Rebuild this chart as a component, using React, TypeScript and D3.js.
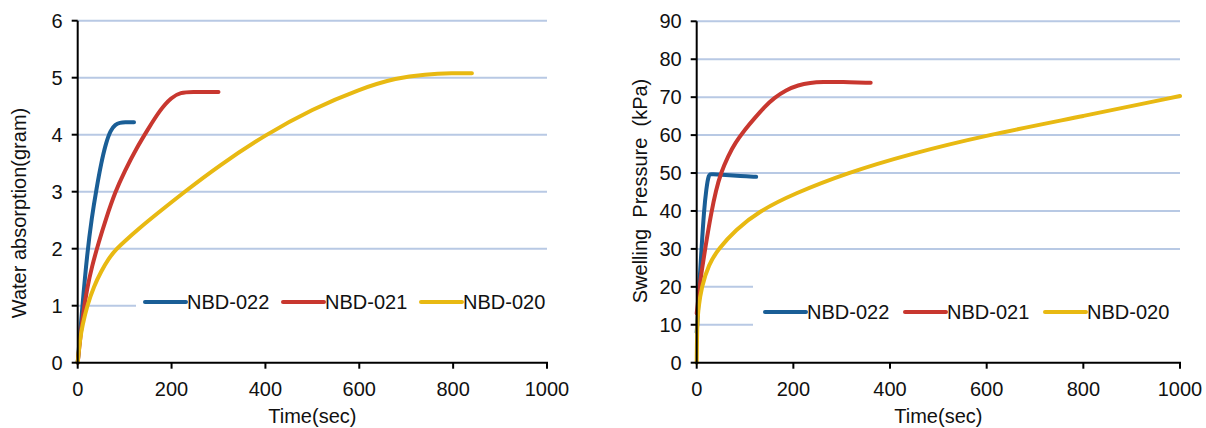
import React from "react";
import * as d3 from "d3";

const seriesNames = ["NBD-022", "NBD-021", "NBD-020"];
const seriesColors = ["#1a5e96", "#c8372f", "#e8b912"];

// Left chart: water absorption (gram) vs time (sec)
const absTime022 = [0, 10, 20, 30, 40, 50, 60, 70, 80, 90, 100, 120];
const absValue022 = [0, 1.0, 1.9, 2.55, 3.05, 3.5, 3.85, 4.08, 4.18, 4.21, 4.22, 4.22];
const absTime021 = [0, 10, 20, 30, 45, 60, 80, 100, 125, 150, 175, 200, 220, 240, 300];
const absValue021 = [0, 0.8, 1.3, 1.68, 2.12, 2.52, 3.0, 3.36, 3.76, 4.1, 4.43, 4.66, 4.74, 4.75, 4.75];
const absTime020 = [0, 5, 10, 20, 35, 50, 65, 83, 100, 130, 170, 228, 300, 400, 500, 600, 680, 740, 800, 840];
const absValue020 = [0, 0.42, 0.65, 1.0, 1.35, 1.6, 1.82, 2.0, 2.13, 2.35, 2.62, 3.0, 3.45, 4.0, 4.45, 4.8, 5.0, 5.06, 5.08, 5.08];

// Right chart: swelling pressure (kPa) vs time (sec)
const presTime022 = [0, 3, 5, 10, 15, 20, 25, 30, 60, 90, 123];
const presValue022 = [8, 14, 20, 30, 40, 46, 49.8, 49.7, 49.5, 49.2, 49.0];
const presTime021 = [0, 5, 10, 20, 30, 40, 50, 65, 80, 100, 120, 140, 160, 185, 210, 235, 260, 300, 360];
const presValue021 = [13, 19, 24, 32, 39.5, 45.5, 50, 54.5, 58, 61.5, 64.5, 67.4, 69.8, 71.9, 73.2, 73.8, 74, 74, 73.8];
const presTime020 = [0, 1, 3, 10, 25, 45, 80, 130, 200, 310, 440, 600, 800, 1000];
const presValue020 = [0, 10, 14, 20, 26, 30, 35, 40, 44.5, 50, 55, 60, 65, 70.3];

const xTicks = [0, 200, 400, 600, 800, 1000];
const absTicks = [0, 1, 2, 3, 4, 5, 6];
const presTicks = [0, 10, 20, 30, 40, 50, 60, 70, 80, 90];

const FONT = "'Liberation Sans', Arial, sans-serif";
const GRID = "#b8c9e4";

type Pt = [number, number];
const zip = (t: number[], v: number[]): Pt[] => t.map((d, i) => [d, v[i]]);

interface PanelProps {
  x0: number; x1: number; y0: number; y1: number;
  yMax: number; yTicks: number[]; labelGap: number;
  series: Pt[][];
  yTitle: string; yTitleX: number; yTitleY: number;
  legend: { x: number; y: number; stride: number; rect: [number, number, number, number] };
}

function Panel(p: PanelProps) {
  const x = d3.scaleLinear().domain([0, 1000]).range([p.x0, p.x1]);
  const y = d3.scaleLinear().domain([0, p.yMax]).range([p.y0, p.y1]);
  const line = d3.line<Pt>().x(d => x(d[0])).y(d => y(d[1])).curve(d3.curveBasis);
  const [rx, ry, rw, rh] = p.legend.rect;
  return (
    <g>
      {p.yTicks.filter(t => t > 0).map(t => (
        <line key={"g" + t} x1={x(0)} x2={x(1000)} y1={y(t)} y2={y(t)} stroke={GRID} strokeWidth={2} />
      ))}
      <rect x={rx} y={ry} width={rw} height={rh} fill="#fff" />
      {p.series.map((s, i) => (
        <path key={"s" + i} d={line(s) || ""} fill="none" stroke={seriesColors[i]} strokeWidth={4} strokeLinecap="round" strokeLinejoin="round" />
      ))}
      <line x1={x(0)} x2={x(0)} y1={y(0) + 1} y2={y(p.yMax)} stroke="#000" strokeWidth={2} />
      <line x1={x(0) - 1} x2={x(1000) + 1} y1={y(0)} y2={y(0)} stroke="#000" strokeWidth={2} />
      {p.yTicks.map(t => (
        <g key={"yt" + t}>
          <line x1={x(0) - 6} x2={x(0)} y1={y(t)} y2={y(t)} stroke="#000" strokeWidth={2} />
          <text x={x(0) - p.labelGap} y={y(t)} textAnchor="end" dominantBaseline="central" fontSize={20} fontFamily={FONT} fill="#111">{t}</text>
        </g>
      ))}
      {xTicks.map(t => (
        <g key={"xt" + t}>
          <line x1={x(t)} x2={x(t)} y1={y(0)} y2={y(0) + 6} stroke="#000" strokeWidth={2} />
          <text x={x(t)} y={396} textAnchor="middle" fontSize={20} fontFamily={FONT} fill="#111">{t}</text>
        </g>
      ))}
      <text x={(p.x0 + p.x1) / 2} y={423} textAnchor="middle" fontSize={20} fontFamily={FONT} fill="#111">Time(sec)</text>
      <text transform={`translate(${p.yTitleX},${p.yTitleY}) rotate(-90)`} textAnchor="middle" dominantBaseline="central" fontSize={20} fontFamily={FONT} fill="#111" style={{ whiteSpace: "pre" }}>{p.yTitle}</text>
      {seriesNames.map((n, i) => {
        const lx = p.legend.x + i * p.legend.stride;
        return (
          <g key={"l" + i}>
            <line x1={lx} x2={lx + 41} y1={p.legend.y} y2={p.legend.y} stroke={seriesColors[i]} strokeWidth={4} strokeLinecap="round" />
            <text x={lx + 42} y={p.legend.y} dominantBaseline="central" fontSize={20} fontFamily={FONT} fill="#111">{n}</text>
          </g>
        );
      })}
    </g>
  );
}

export default function App() {
  return (
    <svg width={1206} height={428} style={{ position: "absolute", left: 0, top: 0, background: "#fff" }}>
      <rect x={0} y={0} width={1206} height={428} fill="#fff" />
      <Panel
        x0={77.7} x1={547} y0={362.7} y1={20.7} yMax={6} yTicks={absTicks} labelGap={15}
        series={[zip(absTime022, absValue022), zip(absTime021, absValue021), zip(absTime020, absValue020)]}
        yTitle="Water absorption(gram)" yTitleX={18.5} yTitleY={213}
        legend={{ x: 145, y: 302, stride: 138, rect: [136, 280, 420, 45] }}
      />
      <Panel
        x0={696.7} x1={1180} y0={362.7} y1={21.3} yMax={90} yTicks={presTicks} labelGap={15}
        series={[zip(presTime022, presValue022), zip(presTime021, presValue021), zip(presTime020, presValue020)]}
        yTitle="Swelling  Pressure  (kPa)" yTitleX={640} yTitleY={191}
        legend={{ x: 765, y: 312, stride: 140, rect: [753, 262, 432, 84] }}
      />
    </svg>
  );
}
